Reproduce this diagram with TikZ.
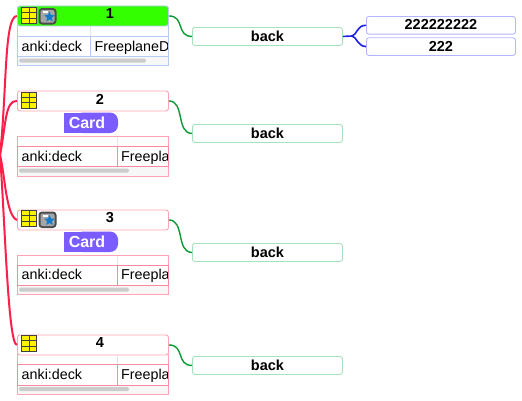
\documentclass[tikz,border=0pt]{standalone}
\usepackage{fontspec}
\usetikzlibrary{shapes.geometric}
\setmainfont{Liberation Sans}
\definecolor{redline}{HTML}{FF1F4B}
\definecolor{pinkb}{HTML}{FFA3B5}
\definecolor{pinkd}{HTML}{FA8AA0}
\definecolor{blueb}{HTML}{B5CBF5}
\definecolor{greenl}{HTML}{0A9A35}
\definecolor{greenb}{HTML}{A5E3BC}
\definecolor{violetb}{HTML}{B5B5FF}
\definecolor{bluel}{HTML}{2020E8}
\definecolor{cardv}{HTML}{7A5CFF}
\definecolor{lime}{HTML}{33FF00}
\tikzset{
  x=1pt,y=-1pt,
  headbox/.style={draw=#1,rounded corners=2.5pt,line width=.9pt,minimum width=151pt,minimum height=20pt,inner sep=0pt,anchor=north west},
  boldtext/.style={font=\bfseries\fontsize{14.5}{15}\selectfont,inner sep=0pt},
  backbox/.style={boldtext,draw=greenb,rounded corners=2.5pt,line width=.9pt,minimum width=150pt,minimum height=18pt,text height=10pt,text depth=.4pt,anchor=north west},
  leafbox/.style={boldtext,draw=violetb,rounded corners=2.5pt,line width=.9pt,minimum width=149pt,minimum height=17.7pt,text height=9.3pt,text depth=.3pt,anchor=north west},
  celltext/.style={font=\fontsize{14.3}{15}\selectfont,inner sep=0pt,anchor=base west},
  redconn/.style={draw=redline,line width=2pt},
  greenconn/.style={draw=greenl,line width=1.4pt},
  blueconn/.style={draw=bluel,line width=1.6pt},
}
\newcommand{\gridicon}[2]{%
  \fill[yellow] (#1,#2) rectangle +(15,16);
  \draw[black!75,line width=1pt] (#1,#2) rectangle +(15,16);
  \draw[black!75,line width=1pt] (#1+7.5,#2) -- +(0,16) (#1,#2+5.3) -- +(15,0) (#1,#2+10.7) -- +(15,0);
}
\newcommand{\staricon}[2]{%
  \fill[black!70,rounded corners=3.5pt] (#1,#2) rectangle +(18,16.5);
  \fill[black!35,rounded corners=2pt] (#1+2,#2+2) rectangle +(14,12.5);
  \fill[white] (#1+4,#2+3) rectangle +(5,2);
  \node[star,star points=5,star point ratio=2.2,fill=cyan!60!blue,inner sep=0pt,minimum size=11pt] at (#1+11,#2+9) {};
}
% \rowcol is the colour of the table's row lines
\newcommand{\celltable}[9]{%
  \fill[black!3] (17.5,#4) rectangle (168,#5);
  \fill[black!20,rounded corners=1.5pt] (19,#4+2) rectangle (#9,#4+6);
  \draw[black!10,line width=.5pt] (#6,#2) -- (#6,#3);
  \draw[#1,line width=.9pt] (17,#2) -- (17,#5) -- (168,#5) -- (168,#2) -- cycle;
  \draw[\rowcol,line width=.9pt] (17,#3) -- (168,#3) -- (168,#4) -- (17,#4) -- cycle (#6,#3) -- (#6,#4);
  \begin{scope}
    \clip (18,#3) rectangle (167.6,#4);
    \node[celltext] at (21.5,#7) {anki:deck};
    \node[celltext] at (#6+4,#7) {#8};
  \end{scope}
}
\begin{document}
\begin{tikzpicture}
\useasboundingbox (0,0) rectangle (522,400);
\fill[white] (0,0) rectangle (522,400);

% tables
\def\rowcol{blueb}
\celltable{blueb}{25.5}{36}{56.5}{65}{90.5}{51}{FreeplaneDeck}{146}
\def\rowcol{pinkd}
\celltable{pinkb}{136}{146.5}{166.5}{176}{117}{161}{Freeplane}{129}
\celltable{pinkb}{255}{265}{285.5}{294.5}{117}{279.5}{Freeplane}{129}
\celltable{pinkb}{354.5}{364.5}{385}{394}{117}{379}{Freeplane}{129}

% headers
\node[headbox=blueb,fill=lime] (h1) at (17,5.5) {};
\node[headbox=pinkb,fill=white] (h2) at (17,90.5) {};
\node[headbox=pinkb,fill=white] (h3) at (17,209.5) {};
\node[headbox=pinkb,fill=white] (h4) at (17,334.5) {};
\node[boldtext] (t1) at (110,13.5) {1};
\node[boldtext] (t2) at (100,99) {2};
\node[boldtext] (t3) at (110,217.5) {3};
\node[boldtext] (t4) at (100,342.5) {4};
\gridicon{21.5}{7.5}
\staricon{38.5}{8}
\gridicon{21.5}{92}
\gridicon{21.5}{210.5}
\staricon{38.5}{211.5}
\gridicon{21.5}{335.5}

% cards
\foreach \n/\y in {c2/112.5,c3/231.5}{
  \fill[cardv,rounded corners=8pt] (75,\y) -- (118,\y) -- (118,\y+20.5) -- (75,\y+20.5) -- cycle;
  \fill[cardv] (63.5,\y) rectangle (100,\y+20.5);
  \node[text=white,font=\bfseries\fontsize{16}{17}\selectfont,inner sep=0pt] (\n) at (87,\y+10.5) {Card};
}

% back nodes
\node[backbox] (b1) at (192,27) {back};
\node[backbox] (b2) at (192,124) {back};
\node[backbox] (b3) at (192,243) {back};
\node[backbox] (b4) at (192,356) {back};
\node[leafbox] (l1) at (366,16) {222222222};
\node[leafbox] (l2) at (366,37.3) {222};

% connectors
\coordinate (root) at (0,155);
\draw[redconn] (root) .. controls (7,90) and (4,16) .. (h1.west);
\draw[redconn] (root) .. controls (6,125) and (5,100) .. (h2.west);
\draw[redconn] (root) .. controls (5,175) and (6,216) .. (h3.west);
\draw[redconn] (root) .. controls (5,220) and (8,345) .. (h4.west);
\foreach \i in {1,2,3,4}{
  \draw[greenconn] (h\i.east) .. controls +(16,0) and +(-16,0) .. (b\i.west);
}
\coordinate (fork) at (352,36);
\draw[blueconn] (b1.east) -- (fork);
\draw[blueconn] (fork) .. controls (357,35) and (357,25) .. (l1.west);
\draw[blueconn] (fork) .. controls (357,37) and (357,46) .. (l2.west);
\end{tikzpicture}
\end{document}
